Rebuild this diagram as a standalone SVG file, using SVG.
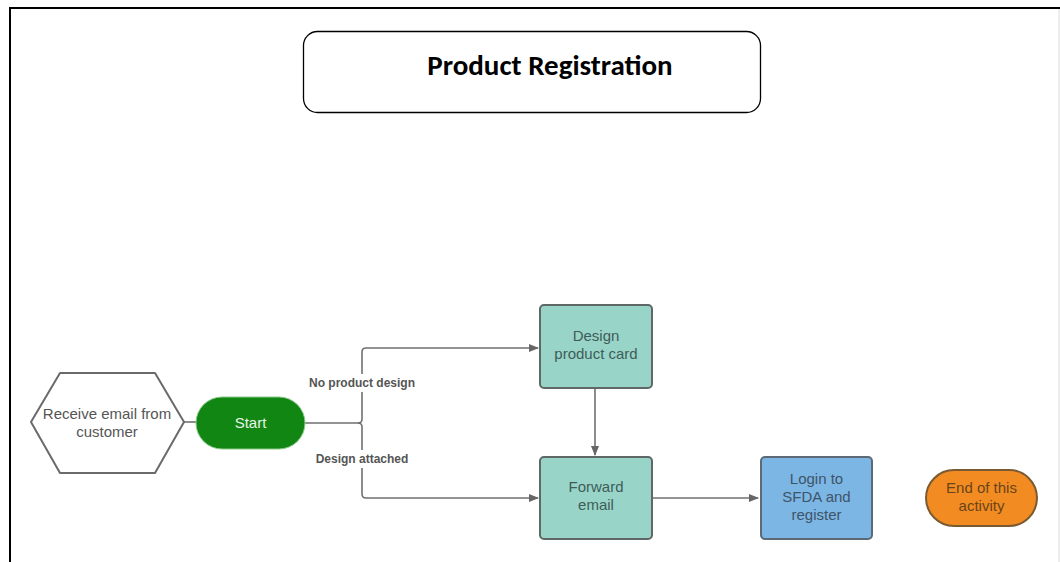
<svg xmlns="http://www.w3.org/2000/svg" width="1060" height="562" viewBox="0 0 1060 562">
  <style>
    .frame { fill: none; stroke: #000; stroke-width: 2; }
    .title-box { fill: #fff; stroke: #000; stroke-width: 1.3; }
    .title { font-family: Carlito, Calibri, "Liberation Sans", sans-serif; font-weight: bold; font-size: 29px; fill: #000; }
    .lbl { font-family: "Liberation Sans", Arial, sans-serif; font-size: 15px; text-anchor: middle; }
    .edge-lbl { font-family: "Liberation Sans", Arial, sans-serif; font-size: 12px; font-weight: bold; fill: #555; text-anchor: middle; }
    .conn { fill: none; stroke: #707070; stroke-width: 1.6; }
    .teal { fill: #98d5c8; stroke: #5f6866; stroke-width: 2; }
    .blue { fill: #7cb6e4; stroke: #5d6a76; stroke-width: 2; }
  </style>
  <defs>
    <marker id="arrow" markerWidth="10" markerHeight="8" refX="9" refY="4" orient="auto" markerUnits="userSpaceOnUse">
      <path d="M0,0 L10,4 L0,8 Z" fill="#666"/>
    </marker>
  </defs>

  <rect width="1060" height="562" fill="#fff"/>
  <!-- page frame -->
  <path class="frame" d="M10,562 V8 H1060"/>
  <line x1="1059" y1="9" x2="1059" y2="562" stroke="#ddd" stroke-width="1"/>

  <g id="title">
    <rect class="title-box" x="303.5" y="31.5" width="457" height="81" rx="14"/>
    <text class="title" x="550" y="75" text-anchor="middle">Product Registration</text>
  </g>

  <g id="connectors">
    <line class="conn" x1="184" y1="422" x2="196" y2="422"/>
    <path class="conn" d="M305,423 H358 Q362,423 362,419 V352 Q362,348 366,348 H538" marker-end="url(#arrow)"/>
    <path class="conn" d="M358,423 Q362,423 362,427 V494 Q362,498 366,498 H538" marker-end="url(#arrow)"/>
    <line class="conn" x1="595" y1="389" x2="595" y2="455" marker-end="url(#arrow)"/>
    <line class="conn" x1="653" y1="498" x2="758" y2="498" marker-end="url(#arrow)"/>
    <!-- edge labels with white backing -->
    <rect x="305" y="374" width="114" height="18" fill="#fff"/>
    <text class="edge-lbl" x="362" y="387">No product design</text>
    <rect x="312" y="450" width="101" height="18" fill="#fff"/>
    <text class="edge-lbl" x="362" y="463">Design attached</text>
  </g>

  <g id="receive-email">
    <polygon points="31,422 60,373 155,373 184,422 155,473 60,473" fill="#fff" stroke="#6a6a6a" stroke-width="2" stroke-linejoin="round"/>
    <text class="lbl" fill="#555" x="107" y="419">Receive email from</text>
    <text class="lbl" fill="#555" x="107" y="437">customer</text>
  </g>

  <g id="start">
    <rect x="196" y="397" width="109" height="52" rx="26" fill="#128612" stroke="#8ac98a" stroke-width="1"/>
    <text class="lbl" fill="#e8f5e8" x="250.5" y="428">Start</text>
  </g>

  <g id="design-card">
    <rect class="teal" x="540" y="305" width="112" height="83" rx="4"/>
    <text class="lbl" fill="#3f5c58" x="596" y="341">Design</text>
    <text class="lbl" fill="#3f5c58" x="596" y="359">product card</text>
  </g>

  <g id="forward-email">
    <rect class="teal" x="540" y="457" width="112" height="82" rx="4"/>
    <text class="lbl" fill="#3f5c58" x="596" y="492">Forward</text>
    <text class="lbl" fill="#3f5c58" x="596" y="510">email</text>
  </g>

  <g id="login-sfda">
    <rect class="blue" x="761" y="457" width="111" height="82" rx="4"/>
    <text class="lbl" fill="#3e5468" x="816.5" y="484">Login to</text>
    <text class="lbl" fill="#3e5468" x="816.5" y="502">SFDA and</text>
    <text class="lbl" fill="#3e5468" x="816.5" y="520">register</text>
  </g>

  <g id="end-activity">
    <rect x="926" y="470" width="111" height="56" rx="28" fill="#f28c22" stroke="#7a5a32" stroke-width="2"/>
    <text class="lbl" fill="#6a4418" x="981.5" y="493">End of this</text>
    <text class="lbl" fill="#6a4418" x="981.5" y="511">activity</text>
  </g>
</svg>
